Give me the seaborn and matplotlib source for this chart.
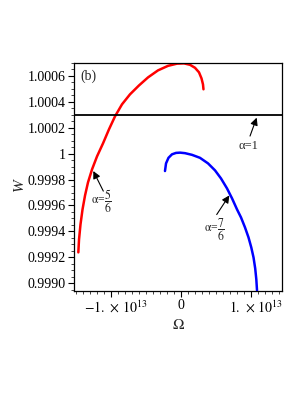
import matplotlib
matplotlib.use("Agg")
import matplotlib.pyplot as plt
from matplotlib.ticker import FixedLocator, FixedFormatter, AutoMinorLocator
from matplotlib.transforms import ScaledTranslation
import seaborn as sns
import pandas as pd

# ---- data ----
red_omega = [-1.467, -1.457, -1.436, -1.407, -1.371, -1.329, -1.271, -1.200, -1.114, -1.029,
             -0.943, -0.843, -0.729, -0.600, -0.471, -0.329, -0.186, -0.057, 0.043, 0.129,
             0.200, 0.257, 0.293, 0.314, 0.321]
red_w = [0.999238, 0.999338, 0.999454, 0.999570, 0.999678, 0.999778, 0.999879, 0.999979, 1.000080, 1.000188,
         1.000288, 1.000381, 1.000458, 1.000527, 1.000589, 1.000643, 1.000678, 1.000695, 1.000697, 1.000686,
         1.000663, 1.000628, 1.000581, 1.000535, 1.000497]

blue_omega = [-0.229, -0.214, -0.179, -0.129, -0.071, -0.014, 0.057, 0.157, 0.271, 0.386,
              0.486, 0.571, 0.657, 0.729, 0.800, 0.857, 0.914, 0.964, 1.004, 1.036,
              1.060, 1.076, 1.086]
blue_w = [0.999866, 0.999925, 0.999968, 0.999995, 1.000006, 1.000008, 1.000004, 0.999991, 0.999968, 0.999925,
          0.999871, 0.999809, 0.999732, 0.999655, 0.999570, 0.999508, 0.999431, 0.999354, 0.999276, 0.999199,
          0.999114, 0.999029, 0.998944]

alpha1_w = 1.000295
xlim = (-1.529, 1.443)
ylim = (0.99894, 1.0007)

ytick_vals = [0.9990, 0.9992, 0.9994, 0.9996, 0.9998, 1.0, 1.0002, 1.0004, 1.0006]
ytick_labels = ["0.9990", "0.9992", "0.9994", "0.9996", "0.9998", "1", "1.0002", "1.0004", "1.0006"]
xtick_vals = [-1.0, 0.0, 1.0]
xtick_labels = [r"$-1.\,\times\,10^{13}$", "0", r"$1.\,\times\,10^{13}$"]

sns.set_style("white")
plt.rcParams["font.family"] = ["Liberation Serif", "DejaVu Serif"]
plt.rcParams["mathtext.fontset"] = "stix"

fig = plt.figure(figsize=(3.06, 3.96), dpi=100)
ax = fig.add_axes([0.2418, 0.2652, 0.6798, 0.5757])

red_df = pd.DataFrame({"Omega": red_omega, "W": red_w})
blue_df = pd.DataFrame({"Omega": blue_omega, "W": blue_w})
sns.lineplot(data=red_df, x="Omega", y="W", sort=False, estimator=None, color="#ff0000", lw=1.8, ax=ax)
sns.lineplot(data=blue_df, x="Omega", y="W", sort=False, estimator=None, color="#0000ff", lw=1.8, ax=ax)
ax.axhline(alpha1_w, color="black", lw=1.3)

ax.set_xlim(*xlim)
ax.set_ylim(*ylim)

ax.yaxis.set_major_locator(FixedLocator(ytick_vals))
ax.yaxis.set_major_formatter(FixedFormatter(ytick_labels))
ax.xaxis.set_major_locator(FixedLocator(xtick_vals))
ax.xaxis.set_major_formatter(FixedFormatter(xtick_labels))
ax.yaxis.set_minor_locator(AutoMinorLocator(4))
ax.xaxis.set_minor_locator(AutoMinorLocator(10))

ax.tick_params(axis="both", which="major", direction="out", length=4, width=0.8,
               labelsize=10, colors="black", left=True, bottom=True, pad=2)
ax.tick_params(axis="both", which="minor", direction="out", length=2, width=0.6,
               left=True, bottom=True)
for s in ax.spines.values():
    s.set_color("black")
    s.set_linewidth(0.9)

# Maple centres the mantissa part under the tick; shift the exponent labels a bit right
for lbl, v in zip(ax.get_xticklabels(), xtick_vals):
    if v != 0:
        lbl.set_transform(lbl.get_transform() + ScaledTranslation(5 / 100, 0, fig.dpi_scale_trans))

ax.set_xlabel(r"$\Omega$", fontsize=11)
ax.set_ylabel("W", fontsize=11, style="italic")
ax.xaxis.set_label_coords(0.501, -0.118)
ax.yaxis.set_label_coords(-0.23, 0.465)

ax.text(-1.329, 1.000600, "(b)", fontsize=10, ha="center", va="center")

arrow = dict(arrowstyle="-|>", color="black", lw=0.8, mutation_scale=11, shrinkA=0, shrinkB=0)
ax.annotate("", xy=(1.081, 1.000278), xytext=(0.986, 1.000136), arrowprops=arrow)
ax.text(0.961, 1.000059, "\u03b1=1", fontsize=9, ha="center", va="center")

ax.annotate("", xy=(-1.253, 0.999866), xytext=(-1.11, 0.999711), arrowprops=arrow)
ax.text(-1.143, 0.999634, r"$\mathrm{\alpha}$=$\dfrac{5}{6}$", fontsize=8.5, ha="center", va="center")

ax.annotate("", xy=(0.69, 0.999678), xytext=(0.51, 0.99953), arrowprops=arrow)
ax.text(0.471, 0.999416, r"$\mathrm{\alpha}$=$\dfrac{7}{6}$", fontsize=8.5, ha="center", va="center")

fig.savefig("out.png", dpi=100)
